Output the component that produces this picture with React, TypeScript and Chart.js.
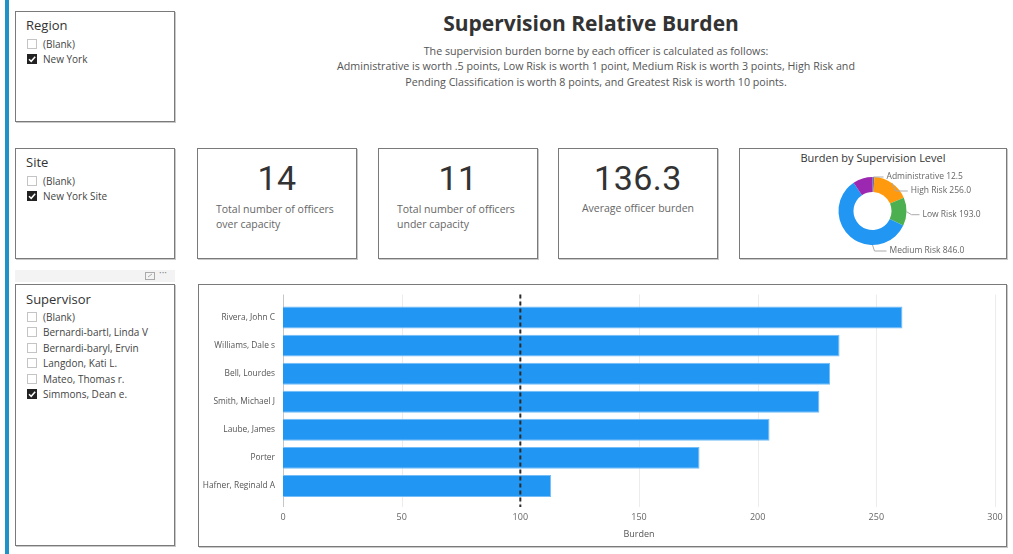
import React, { useEffect, useRef } from "react";
import { Chart, registerables } from "chart.js";
Chart.register(...registerables);

// ---------- data ----------
const regionItems = ["(Blank)", "New York"];
const regionChecked = [false, true];
const siteItems = ["(Blank)", "New York Site"];
const siteChecked = [false, true];
const supervisorItems = [
  "(Blank)",
  "Bernardi-bartl, Linda V",
  "Bernardi-baryl, Ervin",
  "Langdon, Kati L.",
  "Mateo, Thomas r.",
  "Simmons, Dean e.",
];
const supervisorChecked = [false, false, false, false, false, true];

const cardValues = ["14", "11", "136.3"];
const cardLabels = [
  ["Total number of officers", "over capacity"],
  ["Total number of officers", "under capacity"],
  ["Average officer burden"],
];

const levelNames = ["Administrative", "High Risk", "Low Risk", "Medium Risk", "Pending Classification"];
const levelBurden = [12.5, 256.0, 193.0, 846.0, 135.0];
const levelColors = ["#5d7b9b", "#ff9a0e", "#4caf50", "#2196f3", "#9c27b0"];
const levelLabelShown = [true, true, true, true, false];

const officers = [
  "Rivera, John C",
  "Williams, Dale s",
  "Bell, Lourdes",
  "Smith, Michael J",
  "Laube, James",
  "Porter",
  "Hafner, Reginald A",
];
const officerBurden = [261, 234.5, 230.5, 226, 205, 175.5, 113];
const capacityLine = 100;
const burdenMin = 0;
const burdenMax = 300;
const burdenStep = 50;

const FONT = "'Open Sans', 'Noto Sans', sans-serif";

// ---------- small UI pieces ----------
const Box: React.FC<{ l: number; t: number; w: number; h: number; children?: any }> = ({ l, t, w, h, children }) => (
  <div
    style={{
      position: "absolute",
      left: l,
      top: t,
      width: w,
      height: h,
      boxSizing: "border-box",
      border: "1px solid #7a7a7a",
      boxShadow: "1px 1px 0 #c9c9c9",
      background: "#fff",
    }}
  >
    {children}
  </div>
);

const CheckBox: React.FC<{ checked: boolean }> = ({ checked }) =>
  checked ? (
    <svg width={10} height={10} style={{ position: "absolute", left: 0, top: 0 }}>
      <rect x={0} y={0} width={10} height={10} fill="#222" />
      <path d="M2 5.2 L4.2 7.3 L8.2 2.8" stroke="#fff" strokeWidth={1.5} fill="none" />
    </svg>
  ) : (
    <svg width={10} height={10} style={{ position: "absolute", left: 0, top: 0 }}>
      <rect x={0.5} y={0.5} width={9} height={9} fill="#fff" stroke="#c4c4c4" />
    </svg>
  );

const Slicer: React.FC<{
  l: number;
  t: number;
  w: number;
  h: number;
  title: string;
  items: string[];
  checked: boolean[];
  headerY: number;
  firstY: number;
  step: number;
}> = ({ l, t, w, h, title, items, checked, headerY, firstY, step }) => (
  <Box l={l} t={t} w={w} h={h}>
    <div
      style={{
        position: "absolute",
        left: 10,
        top: headerY - 9,
        height: 18,
        lineHeight: "18px",
        fontSize: 13,
        color: "#333",
        fontFamily: FONT,
        whiteSpace: "nowrap",
      }}
    >
      {title}
    </div>
    {items.map((it, i) => (
      <div key={i} style={{ position: "absolute", left: 11, top: firstY + i * step - 5, height: 10, width: 140 }}>
        <CheckBox checked={checked[i]} />
        <div
          style={{
            position: "absolute",
            left: 16,
            top: -2,
            height: 14,
            lineHeight: "14px",
            fontSize: 10,
            color: "#444",
            fontFamily: FONT,
            whiteSpace: "nowrap",
          }}
        >
          {it}
        </div>
      </div>
    ))}
  </Box>
);

const Card: React.FC<{ l: number; value: string; labels: string[]; center?: boolean }> = ({ l, value, labels, center }) => (
  <Box l={l} t={148} w={160} h={111}>
    <div
      style={{
        position: "absolute",
        left: 0,
        width: 158,
        top: 29 - 22,
        height: 44,
        lineHeight: "44px",
        textAlign: "center",
        fontSize: 34,
        color: "#333",
        fontFamily: "'Roboto', sans-serif",
        letterSpacing: 0.5,
      }}
    >
      {value}
    </div>
    {labels.map((s, i) => (
      <div
        key={i}
        style={{
          position: "absolute",
          left: center ? 0 : 18,
          width: center ? 158 : 140,
          textAlign: center ? "center" : "left",
          top: (center ? 59 : 60) + i * 15 - 8.5,
          height: 16,
          lineHeight: "16px",
          fontSize: 10.5,
          color: "#666",
          fontFamily: FONT,
          whiteSpace: "nowrap",
        }}
      >
        {s}
      </div>
    ))}
  </Box>
);

// ---------- charts ----------
const BarChart: React.FC = () => {
  const ref = useRef<HTMLCanvasElement | null>(null);
  useEffect(() => {
    if (!ref.current) return;
    const gridPlugin = {
      id: "customGrid",
      beforeDatasetsDraw(chart: any) {
        const { ctx, chartArea, scales } = chart;
        const x = scales.x;
        ctx.save();
        x.ticks.forEach((t: any) => {
          const px = Math.round(x.getPixelForValue(t.value)) + 0.5;
          ctx.strokeStyle = t.value === burdenMin ? "#c6c6c6" : "#ececec";
          ctx.lineWidth = 1;
          ctx.beginPath();
          ctx.moveTo(px, chartArea.top - 9);
          ctx.lineTo(px, chartArea.bottom + 7);
          ctx.stroke();
        });
        ctx.restore();
      },
      afterDatasetsDraw(chart: any) {
        const { ctx, chartArea, scales } = chart;
        const px = scales.x.getPixelForValue(capacityLine);
        ctx.save();
        ctx.strokeStyle = "#2b2b2b";
        ctx.lineWidth = 2;
        ctx.setLineDash([4, 3]);
        ctx.beginPath();
        ctx.moveTo(px, chartArea.top - 9);
        ctx.lineTo(px, chartArea.bottom + 7);
        ctx.stroke();
        ctx.restore();
      },
    };
    const chart = new Chart(ref.current, {
      type: "bar",
      data: {
        labels: officers,
        datasets: [
          {
            data: officerBurden,
            backgroundColor: "#2196f3",
            borderColor: "#74bdf7",
            borderWidth: 1,
            barPercentage: 0.78,
            categoryPercentage: 1,
          },
        ],
      },
      options: {
        indexAxis: "y",
        animation: false,
        responsive: false,
        maintainAspectRatio: false,
        layout: { padding: { left: 0, right: 10, top: 18.5, bottom: 0 } },
        plugins: { legend: { display: false }, tooltip: { enabled: false } },
        scales: {
          x: {
            min: burdenMin,
            max: burdenMax,
            ticks: { stepSize: burdenStep, color: "#666", font: { size: 9, family: FONT }, padding: 12, maxRotation: 0 },
            grid: { display: false, drawTicks: false },
            border: { display: false },
            title: { display: true, text: "Burden", color: "#555", font: { size: 9, family: FONT }, padding: { top: 0, bottom: 5 } },
            afterFit: (s: any) => {
              s.height = 45;
              s.paddingLeft = 0;
              s.paddingRight = 0;
            },
          },
          y: {
            ticks: { color: "#555", font: { size: 8.4, family: FONT }, padding: 8 },
            grid: { display: false, drawTicks: false },
            border: { display: false },
            afterFit: (s: any) => {
              s.width = 84;
            },
          },
        },
      } as any,
      plugins: [gridPlugin],
    });
    return () => chart.destroy();
  }, []);
  return <canvas ref={ref} width={806} height={260} style={{ position: "absolute", left: 199, top: 285, width: 806, height: 260 }} />;
};

const DonutChart: React.FC = () => {
  const ref = useRef<HTMLCanvasElement | null>(null);
  useEffect(() => {
    if (!ref.current) return;
    const labelPlugin = {
      id: "donutLabels",
      afterDatasetsDraw(chart: any) {
        const { ctx } = chart;
        const meta = chart.getDatasetMeta(0);
        const items: any[] = [];
        meta.data.forEach((arc: any, i: number) => {
          if (!levelLabelShown[i]) return;
          const p = arc.getProps(["x", "y", "startAngle", "endAngle", "outerRadius"], true);
          let mid = (p.startAngle + p.endAngle) / 2;
          if (Math.cos(mid) < 0) {
            const b = Math.PI / 2;
            if (p.startAngle <= b && p.endAngle >= b) mid = b;
            else mid = -Math.PI / 2;
          }
          const ax = p.x + Math.cos(mid) * p.outerRadius;
          const ay = p.y + Math.sin(mid) * p.outerRadius;
          const ex = ax + Math.cos(mid) * 3;
          const ey = ay + Math.sin(mid) * 3;
          items.push({ ax, ay, ex, ey, ly: ey + 3, text: `${levelNames[i]} ${levelBurden[i].toFixed(1)}` });
        });
        items.sort((a, b) => a.ey - b.ey);
        for (let k = 1; k < items.length; k++) {
          if (items[k].ly < items[k - 1].ly + 14) items[k].ly = items[k - 1].ly + 14;
        }
        ctx.save();
        ctx.font = `8.5px ${FONT}`;
        ctx.textBaseline = "middle";
        ctx.fillStyle = "#666";
        ctx.strokeStyle = "#aaa";
        ctx.lineWidth = 1;
        items.forEach((it) => {
          const endX = it.ex + (it.ly > it.ey + 3 || it.ly > it.ay + 4 ? 14 : 10);
          ctx.beginPath();
          ctx.moveTo(it.ax, it.ay);
          ctx.lineTo(it.ex + 2, it.ly);
          ctx.lineTo(endX, it.ly);
          ctx.stroke();
          ctx.fillText(it.text, endX + 3, it.ly);
        });
        ctx.restore();
      },
    };
    const chart = new Chart(ref.current, {
      type: "doughnut",
      data: {
        labels: levelNames,
        datasets: [{ data: levelBurden, backgroundColor: levelColors, borderWidth: 0 }],
      },
      options: {
        animation: false,
        responsive: false,
        maintainAspectRatio: false,
        cutout: "56%",
        layout: { padding: { top: 28, bottom: 13, left: 0, right: 0 } },
        plugins: { legend: { display: false }, tooltip: { enabled: false } },
      } as any,
      plugins: [labelPlugin],
    });
    return () => chart.destroy();
  }, []);
  return <canvas ref={ref} width={265} height={109} style={{ position: "absolute", left: 740, top: 149, width: 265, height: 109 }} />;
};

export default function App() {
  return (
    <div style={{ position: "absolute", left: 0, top: 0, width: 1013, height: 554, background: "#fff", overflow: "hidden", fontFamily: FONT }}>
      <div style={{ position: "absolute", left: 5, top: 0, width: 4, height: 554, background: "#1f93c9" }} />

      <Slicer l={15} t={11} w={160} h={111} title="Region" items={regionItems} checked={regionChecked} headerY={13} firstY={32} step={15} />
      <Slicer l={15} t={148} w={160} h={111} title="Site" items={siteItems} checked={siteChecked} headerY={13} firstY={32} step={15} />

      <div style={{ position: "absolute", left: 15, top: 270, width: 160, height: 12, background: "#f3f3f3" }}>
        <svg width={10} height={8} style={{ position: "absolute", left: 130, top: 2 }}>
          <rect x={0.5} y={0.5} width={9} height={7} fill="none" stroke="#aaa" />
          <path d="M3 5 L7 2" stroke="#aaa" />
        </svg>
        <div style={{ position: "absolute", left: 144, top: -4, fontSize: 10, color: "#888", lineHeight: "12px" }}>···</div>
      </div>
      <Slicer
        l={15}
        t={284}
        w={160}
        h={262}
        title="Supervisor"
        items={supervisorItems}
        checked={supervisorChecked}
        headerY={14}
        firstY={32}
        step={15.4}
      />

      <div
        style={{
          position: "absolute",
          left: 391,
          width: 400,
          top: 8,
          height: 30,
          lineHeight: "30px",
          textAlign: "center",
          fontSize: 21,
          fontWeight: 700,
          color: "#333",
          fontFamily: FONT,
        }}
      >
        Supervision Relative Burden
      </div>
      {[
        "The supervision burden borne by each officer is calculated as follows:",
        "Administrative is worth .5 points, Low Risk is worth 1 point, Medium Risk is worth 3 points, High Risk and",
        "Pending Classification is worth 8 points, and Greatest Risk is worth 10 points.",
      ].map((s, i) => (
        <div
          key={i}
          style={{
            position: "absolute",
            left: 296,
            width: 600,
            top: 50.5 + i * 15.5 - 8,
            height: 16,
            lineHeight: "16px",
            textAlign: "center",
            fontSize: 10.7,
            color: "#555",
            fontFamily: FONT,
            whiteSpace: "nowrap",
          }}
        >
          {s}
        </div>
      ))}

      <Card l={197} value={cardValues[0]} labels={cardLabels[0]} />
      <Card l={378} value={cardValues[1]} labels={cardLabels[1]} />
      <Card l={558} value={cardValues[2]} labels={cardLabels[2]} center />

      <Box l={739} t={148} w={268} h={111} />
      <div
        style={{
          position: "absolute",
          left: 739,
          width: 268,
          top: 150,
          height: 16,
          lineHeight: "16px",
          textAlign: "center",
          fontSize: 11,
          color: "#333",
          fontFamily: FONT,
        }}
      >
        Burden by Supervision Level
      </div>
      <DonutChart />

      <Box l={198} t={284} w={809} h={263} />
      <BarChart />
    </div>
  );
}
